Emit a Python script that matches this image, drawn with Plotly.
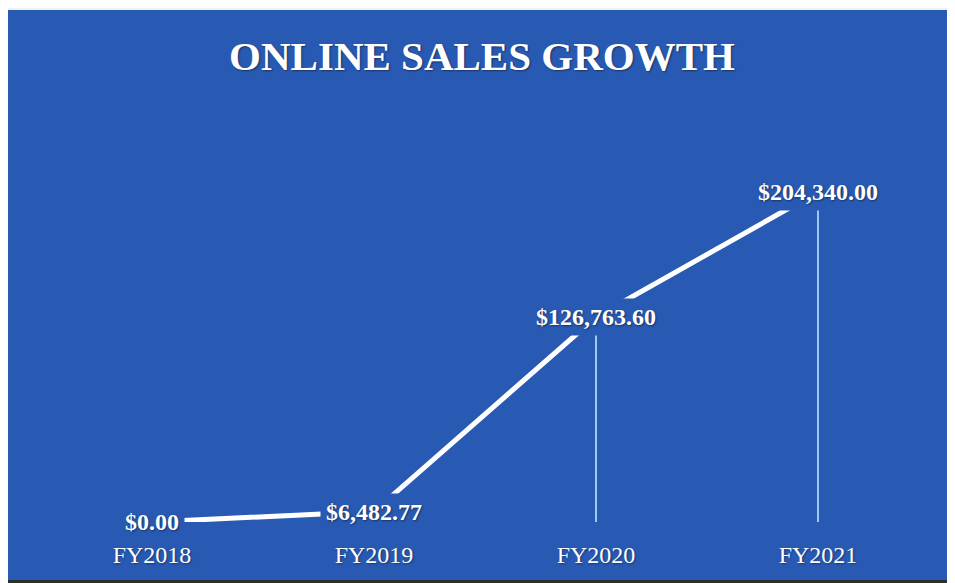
import plotly.graph_objects as go

# ---- data ----
categories = ["FY2018", "FY2019", "FY2020", "FY2021"]
sales = [0.00, 6482.77, 126763.60, 204340.00]
title_text = "ONLINE SALES GROWTH"

BLUE = "rgb(40,90,180)"
SERIF = "Liberation Serif, Times New Roman, serif"

W, H = 947, 575          # page body has an 8px margin; fits the 955x583 window
L, R, T, B = 33, 26, 110, 61
PW, PH = W - L - R, H - T - B

fig = go.Figure()

# drop lines from each point to the axis
dx, dy = [], []
for c, v in zip(categories, sales):
    dx += [c, c, None]
    dy += [v, 0, None]
fig.add_trace(go.Scatter(
    x=dx, y=dy, mode="lines",
    line=dict(color="rgba(165,205,250,0.95)", width=2),
    hoverinfo="skip", showlegend=False,
))

# main line
fig.add_trace(go.Scatter(
    x=categories, y=sales, mode="lines",
    line=dict(color="white", width=5),
    showlegend=False,
))

# value labels (masking the line with a blue box)
for c, v in zip(categories, sales):
    fig.add_annotation(
        x=c, y=v, xref="x", yref="y",
        text=f"<b>${v:,.2f}</b>",
        showarrow=False,
        font=dict(family=SERIF, size=24, color="white",
                  shadow="1px 1px 2px rgba(0,0,0,0.45)"),
        bgcolor=BLUE, borderpad=5,
        xanchor="center", yanchor="middle",
    )

fig.update_layout(
    width=W, height=H,
    margin=dict(l=L, r=R, t=T, b=B),
    paper_bgcolor=BLUE,
    plot_bgcolor=BLUE,
    title=dict(
        text=f"<b>{title_text}</b>",
        x=474 / W, xanchor="center",
        y=1 - 48 / H, yanchor="middle",
        font=dict(family=SERIF, size=41, color="white",
                  shadow="1px 1px 2px rgba(0,0,0,0.45)"),
    ),
    xaxis=dict(
        type="category", range=[-0.5, 3.5],
        showgrid=False, zeroline=False, showline=False,
        tickfont=dict(family=SERIF, size=24, color="white",
                      shadow="1px 1px 2px rgba(0,0,0,0.4)"),
        ticks="", ticklabelstandoff=16,
    ),
    yaxis=dict(
        range=[0, 250000], visible=False, showgrid=False, zeroline=False,
    ),
    shapes=[
        # light strip at the very top of the scan
        dict(type="rect", xref="paper", yref="paper",
             x0=-L / PW, x1=(W - L) / PW,
             y0=(H - B - 2) / PH, y1=(H - B) / PH,
             fillcolor="#f2f2f2", line=dict(width=0), layer="below"),
        # dark edge at the bottom of the scan
        dict(type="rect", xref="paper", yref="paper",
             x0=-L / PW, x1=(W - L) / PW,
             y0=-B / PH, y1=-(B - 3) / PH,
             fillcolor="#2e2e2e", line=dict(width=0), layer="below"),
    ],
)

fig.write_html("out.html")
